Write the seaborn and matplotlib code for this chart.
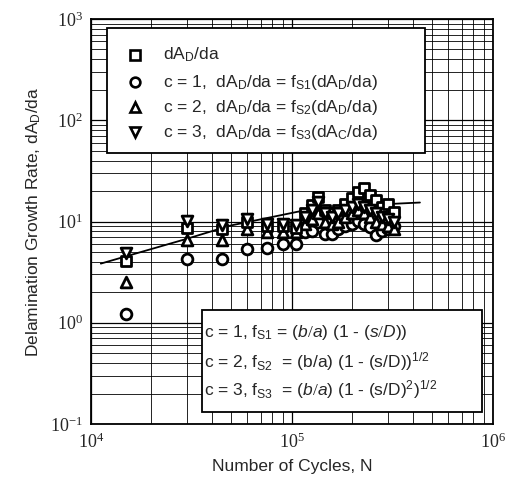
import matplotlib
matplotlib.use("Agg")
import matplotlib.pyplot as plt
import seaborn as sns
import pandas as pd
import numpy as np
from matplotlib.patches import Rectangle
from matplotlib.ticker import LogLocator, FuncFormatter, NullFormatter

# ---------------- data ----------------
N_early = [1.5e4, 3.0e4, 4.5e4, 6.0e4, 7.5e4, 9.0e4, 1.05e5]
N_cluster = [1.16e5, 1.26e5, 1.35e5, 1.46e5, 1.58e5, 1.69e5, 1.84e5, 1.99e5,
             2.13e5, 2.28e5, 2.44e5, 2.62e5, 2.80e5, 3.01e5, 3.22e5]

sq_early = [4.1, 8.7, 8.5, 9.8, 9.0, 9.0, 8.7]
sq_cluster = [12.0, 14.4, 17.3, 13.0, 12.0, 13.0, 15.0, 17.0, 19.4, 21.3, 18.1, 16.2, 14.0, 15.0, 12.5]

c1_early = [1.23, 4.3, 4.3, 5.4, 5.5, 6.0, 6.0]
c1_cluster = [7.8, 8.1, 9.8, 7.6, 7.6, 8.5, 9.0, 9.5, 10.2, 9.5, 8.8, 7.3, 8.1, 8.5, 9.0]

c2_early = [2.55, 6.6, 6.5, 8.5, 7.8, 7.8, 7.8]
c2_cluster = [9.5, 10.5, 12.0, 10.0, 9.5, 10.0, 11.0, 12.0, 13.0, 12.0, 11.0, 10.0, 9.5, 9.0, 8.5]

c3_early = [4.9, 10.2, 9.3, 10.7, 9.5, 9.5, 9.3]
c3_cluster = [11.0, 13.0, 15.5, 12.0, 11.0, 12.0, 13.0, 14.0, 15.0, 14.0, 13.0, 12.0, 11.0, 10.5, 10.0]

fit_N = [1.12e4, 3.04e4, 4.92e4, 1.135e5, 2.0e5, 4.34e5]
fit_y = [3.84, 6.8, 9.1, 12.8, 14.3, 15.4]
# --------------------------------------------------------------

rows = []
for name, e, c in [("sq", sq_early, sq_cluster), ("c1", c1_early, c1_cluster),
                   ("c2", c2_early, c2_cluster), ("c3", c3_early, c3_cluster)]:
    for n, v in zip(N_early + N_cluster, e + c):
        rows.append({"N": n, "rate": v, "series": name})
df = pd.DataFrame(rows)
fit = pd.DataFrame({"N": fit_N, "rate": fit_y})

sns.set_style("white")
plt.rcParams["font.family"] = ["Liberation Sans", "DejaVu Sans"]
plt.rcParams["mathtext.fontset"] = "custom"
plt.rcParams["mathtext.rm"] = "Liberation Serif"
plt.rcParams["mathtext.it"] = "Liberation Sans:italic"
plt.rcParams["mathtext.sf"] = "Liberation Sans"
plt.rcParams["mathtext.bf"] = "Liberation Sans:bold"

fig = plt.figure(figsize=(5.08, 4.95), dpi=100)
ax = fig.add_axes([0.179, 0.1434, 0.791, 0.8182])

markers = {"sq": "s", "c1": "o", "c2": "^", "c3": "v"}
order = ["c1", "c2", "sq", "c3"]
for name in order:
    sub = df[df["series"] == name]
    sns.scatterplot(data=sub, x="N", y="rate", marker=markers[name], s=60,
                    facecolor="white", edgecolor="black", linewidth=2.0,
                    ax=ax, legend=False, zorder=4)

sns.lineplot(data=fit, x="N", y="rate", color="black", lw=1.3, ax=ax, zorder=3)

ax.set_xscale("log")
ax.set_yscale("log")
ax.set_xlim(1e4, 1e6)
ax.set_ylim(1e-1, 1e3)

def pow_fmt(v, pos):
    e = int(round(np.log10(v)))
    return r"$\mathrm{10^{%d}}$" % e

ax.xaxis.set_major_locator(LogLocator(base=10, numticks=10))
ax.yaxis.set_major_locator(LogLocator(base=10, numticks=10))
ax.xaxis.set_minor_locator(LogLocator(base=10, subs=np.arange(2, 10), numticks=20))
ax.yaxis.set_minor_locator(LogLocator(base=10, subs=np.arange(2, 10), numticks=20))
ax.xaxis.set_major_formatter(FuncFormatter(pow_fmt))
ax.yaxis.set_major_formatter(FuncFormatter(pow_fmt))
ax.xaxis.set_minor_formatter(NullFormatter())
ax.yaxis.set_minor_formatter(NullFormatter())

ax.grid(True, which="major", color="black", lw=0.9)
ax.grid(True, which="minor", color="black", lw=0.6)
ax.tick_params(which="both", length=0, labelsize=13, pad=6)
for s in ax.spines.values():
    s.set_color("black")
    s.set_linewidth(1.3)

ax.set_xlabel("Number of Cycles, N", fontsize=12.5, labelpad=5)
ax.set_ylabel(r"Delamination Growth Rate, dA$_\mathsf{D}$/da", fontsize=12.5, labelpad=5)

# legend box 1
ax.add_patch(Rectangle((0.04, 0.669), 0.791, 0.309, transform=ax.transAxes,
                       facecolor="white", edgecolor="black", lw=1.3, zorder=6))
leg_labels = [
    r"dA$_\mathsf{D}$/da",
    r"c = 1,  dA$_\mathsf{D}$/da = f$_\mathsf{S1}$(dA$_\mathsf{D}$/da)",
    r"c = 2,  dA$_\mathsf{D}$/da = f$_\mathsf{S2}$(dA$_\mathsf{D}$/da)",
    r"c = 3,  dA$_\mathsf{D}$/da = f$_\mathsf{S3}$(dA$_\mathsf{C}$/da)",
]
leg_marks = ["s", "o", "^", "v"]
ys_px = [55, 82, 107, 132]
for lab, m, ypx in zip(leg_labels, leg_marks, ys_px):
    ya = (424 - ypx) / 405
    ax.plot([(135 - 91) / 402], [ya], marker=m, ms=7, mfc="white", mec="black",
            mew=1.9, transform=ax.transAxes, zorder=7, clip_on=False)
    ax.text((163 - 91) / 402, ya, lab, transform=ax.transAxes, fontsize=12.5,
            va="center", ha="left", zorder=7)

# box 2
ax.add_patch(Rectangle(((202 - 91) / 402, (424 - 412) / 405), (482 - 202) / 402,
                       (412 - 310) / 405, transform=ax.transAxes,
                       facecolor="white", edgecolor="black", lw=1.3, zorder=6))
box2 = [
    r"c = 1, f$_\mathsf{S1}$ = ($\mathit{b/a}$) (1 - ($\mathit{s/D}$))",
    r"c = 2, f$_\mathsf{S2}$  = (b/a) (1 - (s/D))$^\mathsf{1/2}$",
    r"c = 3, f$_\mathsf{S3}$  = ($\mathit{b/a}$) (1 - (s/D)$^\mathsf{2}$)$^\mathsf{1/2}$",
]
for lab, ypx in zip(box2, [332, 362, 390]):
    ax.text((204 - 91) / 402, (424 - ypx) / 405, lab, transform=ax.transAxes,
            fontsize=12.5, va="center", ha="left", zorder=7)

fig.savefig("out.png", dpi=100)
